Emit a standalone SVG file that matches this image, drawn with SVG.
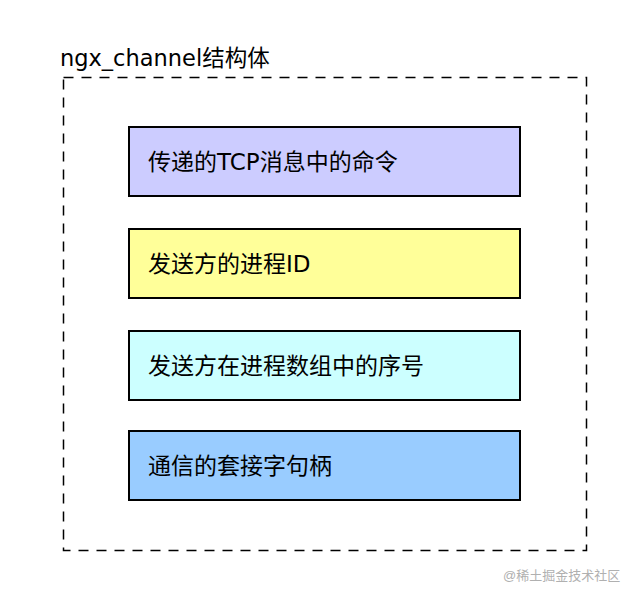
<svg xmlns="http://www.w3.org/2000/svg" width="640" height="598" viewBox="0 0 640 598">
<style>
.box{stroke:#000;stroke-width:2}
.lbl{font-family:"DejaVu Sans","Noto Sans CJK SC",sans-serif;font-size:23px;fill:#000}
.title{font-family:"DejaVu Sans","Noto Sans CJK SC",sans-serif;font-size:22.5px;fill:#000}
</style>
<rect width="640" height="598" fill="#fff"/>
<g id="container">
<rect x="63.5" y="77.5" width="523" height="473" fill="none" stroke="#000" stroke-width="1.5" stroke-dasharray="10 8"/>
<text class="title" x="60" y="66">ngx_channel结构体</text>
</g>
<g id="connectors"></g>
<g id="node1">
<rect class="box" x="129" y="127" width="391" height="69" fill="#ccccff"/>
<text class="lbl" x="148" y="170">传递的TCP消息中的命令</text>
</g>
<g id="node2">
<rect class="box" x="129" y="229" width="391" height="69" fill="#ffff99"/>
<text class="lbl" x="148" y="272">发送方的进程ID</text>
</g>
<g id="node3">
<rect class="box" x="129" y="331" width="391" height="69" fill="#ccffff"/>
<text class="lbl" x="148" y="374">发送方在进程数组中的序号</text>
</g>
<g id="node4">
<rect class="box" x="129" y="431" width="391" height="69" fill="#99ccff"/>
<text class="lbl" x="148" y="474">通信的套接字句柄</text>
</g>
<text x="503" y="580" font-family="Liberation Sans,'Noto Sans CJK SC',sans-serif" font-size="13" fill="#b0b0b0">@稀土掘金技术社区</text>
</svg>
